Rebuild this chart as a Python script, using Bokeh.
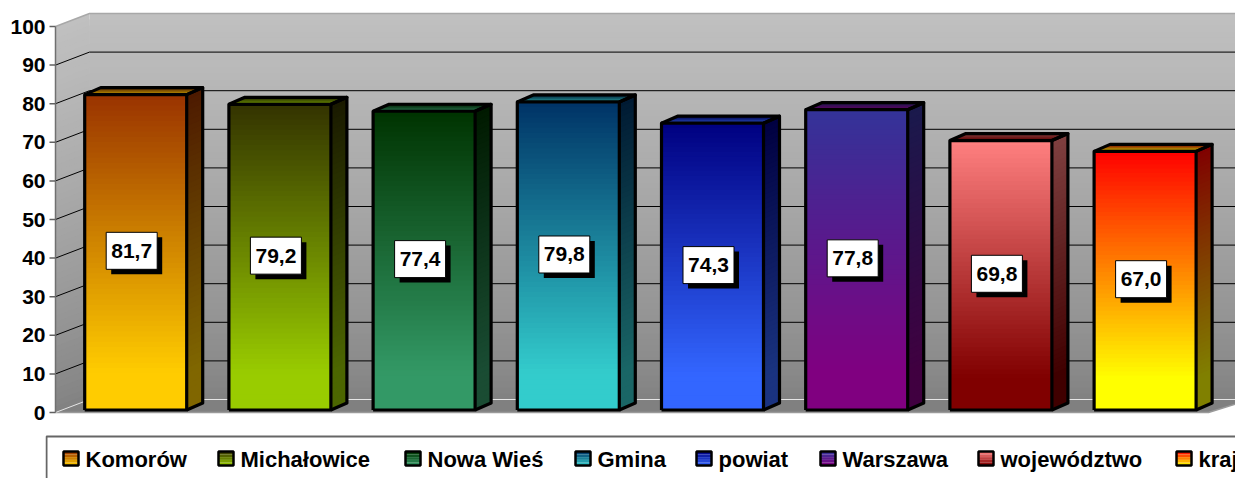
from bokeh.plotting import figure
from bokeh.models import Range1d, FixedTicker, BoxAnnotation
from bokeh.core.properties import value
from bokeh.embed import file_html
from bokeh.resources import INLINE

# ---------- data ----------
categories = ["Komorów", "Michałowice", "Nowa Wieś", "Gmina", "powiat", "Warszawa", "województwo", "kraj"]
values = [81.7, 79.2, 77.4, 79.8, 74.3, 77.8, 69.8, 67.0]
value_labels = ["81,7", "79,2", "77,4", "79,8", "74,3", "77,8", "69,8", "67,0"]
top_colors = ["#993300", "#333300", "#003300", "#003366", "#000080", "#333399", "#FF8080", "#FF0000"]
bottom_colors = ["#FFCC00", "#99CC00", "#339966", "#33CCCC", "#3366FF", "#800080", "#800000", "#FFFF00"]
y_ticks = [0, 10, 20, 30, 40, 50, 60, 70, 80, 90, 100]
legend_swatch_px = [63, 218, 405, 575, 696, 820, 978, 1176]

# ---------- layout (page pixels) ----------
W, H = 1235, 478
FRAME_L = 45          # plot frame starts at the legend box's left edge
AXIS_X = 55           # front plane of the 3D chart
PX_X = 144.2          # pixels per category
PX_Y = 3.86           # pixels per value unit
Y0_PAGE = 412         # value 0 on the front plane
C0_PAGE = 135.2       # centre of first bar
WALL_DX, WALL_DY = 34, 13
BAR_DX, BAR_DY = 16, 7
BAR_W = 102
BAR_LIFT = 2.5        # bars stand slightly behind the front floor edge


def X(px):
    return (px - C0_PAGE) / PX_X


def Y(py):
    return (Y0_PAGE - py) / PX_Y


def hex2rgb(h):
    return tuple(int(h[i:i + 2], 16) for i in (1, 3, 5))


def mix(c1, c2, t, k=1.0):
    a, b = hex2rgb(c1), hex2rgb(c2)
    return "#%02x%02x%02x" % tuple(int(round((a[i] + (b[i] - a[i]) * t) * k)) for i in range(3))


p = figure(width=W, height=H, output_backend="svg", toolbar_location=None,
           x_range=Range1d(X(FRAME_L), X(W)), y_range=Range1d(Y(H), Y(0)),
           x_axis_location=None, min_border_left=FRAME_L, min_border_right=0,
           min_border_top=0, min_border_bottom=0)
p.outline_line_color = None
p.xgrid.visible = False
p.ygrid.visible = False
p.background_fill_color = "white"

ax = p.yaxis[0]
ax.bounds = (0, 100)
ax.ticker = FixedTicker(ticks=y_ticks)
ax.axis_line_color = None
ax.major_tick_line_color = None
ax.major_tick_in = 0
ax.major_tick_out = 0
ax.minor_tick_line_color = None
ax.major_label_standoff = 0
ax.major_label_text_font = "Liberation Sans"
ax.major_label_text_font_style = "bold"
ax.major_label_text_font_size = "21px"
ax.major_label_text_color = "#000000"

# ---------- walls (painted top band first, each band reaching down to the floor) ----------
wall_dy = WALL_DY / PX_Y
x_left, x_back, x_right = X(AXIS_X), X(AXIS_X + WALL_DX), X(1290)
N = 64
for i in range(N - 1, -1, -1):
    v1 = 100 * (i + 1) / N
    c = mix("#808080", "#C0C0C0", ((i + 0.5) / N) ** 0.75)
    p.quad(left=x_back, right=x_right, bottom=wall_dy, top=v1 + wall_dy, fill_color=c, line_color=None)
    p.patch([x_left, x_back, x_back, x_left], [0, wall_dy, v1 + wall_dy, v1], fill_color=c, line_color=None)
# floor
p.patch([x_left, x_back, X(1250), X(1208)], [0, wall_dy, wall_dy, 0], fill_color="#808080", line_color=None)
p.line([x_left, X(1208), X(1250)], [0, 0, wall_dy], line_color="#9a9a9a", line_width=1.5)
# grid lines
for t in y_ticks:
    col = "#000000" if 0 < t < 100 else ("#e6e6e6" if t == 0 else "#a8a8a8")
    lw = 1 if t < 100 else 1.5
    p.line([x_left, x_back, x_right], [t, t + wall_dy, t + wall_dy], line_color=col, line_width=lw)
# axis line and outward ticks on the front plane
p.line([x_left, x_left], [y_ticks[0], y_ticks[-1]], line_color="#707070", line_width=1.5)
p.segment(x0=[X(AXIS_X - 6)] * len(y_ticks), x1=[x_left] * len(y_ticks), y0=y_ticks, y1=y_ticks,
          line_color="#606060", line_width=1.5)

# ---------- bars ----------
bar_dx = BAR_DX / PX_X
bar_dy = BAR_DY / PX_Y
half = BAR_W / 2 / PX_X
lift = BAR_LIFT / PX_Y
S = 60
for i, v in enumerate(values):
    tc, bc = top_colors[i], bottom_colors[i]
    xl, xr = i - half, i + half
    # side and front gradients: top slice first, every slice down to the base
    for s in range(S - 1, -1, -1):
        b = v * (s + 1) / S + lift
        t = max(0.0, ((s + 0.5) / S - 0.12) / 0.88)
        p.patch([xr, xr + bar_dx, xr + bar_dx, xr], [lift, lift + bar_dy, b + bar_dy, b],
                fill_color=mix(bc, tc, t, 0.5), line_color=None)
        p.quad(left=xl, right=xr, bottom=lift, top=b, fill_color=mix(bc, tc, t), line_color=None)
    # top gradient, back to front
    top = v + lift
    T = 8
    for s in range(T - 1, -1, -1):
        b = (s + 1) / T
        c = mix(mix(bc, bc, 0, 0.78), mix(tc, tc, 0, 0.5), (s + 0.5) / T)
        p.patch([xl, xr, xr + b * bar_dx, xl + b * bar_dx],
                [top, top, top + b * bar_dy, top + b * bar_dy],
                fill_color=c, line_color=None)
    # outlines
    p.multi_line(
        [[xl, xr, xr, xl, xl],
         [xl, xl + bar_dx, xr + bar_dx, xr],
         [xr, xr + bar_dx, xr + bar_dx, xr]],
        [[lift, lift, top, top, lift],
         [top, top + bar_dy, top + bar_dy, top],
         [lift, lift + bar_dy, top + bar_dy, top]],
        line_color="#000000", line_width=3.2, line_join="round")

# ---------- value labels ----------
box_w, box_h = 51 / PX_X, 37 / PX_Y
shadow_x, shadow_y = 5 / PX_X, 5 / PX_Y
for i, v in enumerate(values):
    cx = i - 4 / PX_X
    cy = v / 2 + lift + 1.5 / PX_Y
    p.quad(left=cx - box_w / 2 + shadow_x, right=cx + box_w / 2 + shadow_x,
           bottom=cy - box_h / 2 - shadow_y, top=cy + box_h / 2 - shadow_y,
           fill_color="#000000", line_color=None)
    p.quad(left=cx - box_w / 2, right=cx + box_w / 2, bottom=cy - box_h / 2, top=cy + box_h / 2,
           fill_color="#ffffff", line_color="#000000", line_width=1)
    p.text(x=[cx], y=[cy], text=[value_labels[i]], text_align="center", text_baseline="middle",
           text_font=value("Liberation Sans"), text_font_style="bold", text_font_size="21px",
           text_color="#000000")

# ---------- legend ----------
p.add_layout(BoxAnnotation(left=X(46), right=X(1300), top=Y(436), bottom=Y(520),
                           fill_color="white", fill_alpha=1, line_color="#666666", line_alpha=1, line_width=2))
for i, name in enumerate(categories):
    sx = legend_swatch_px[i]
    L = 5
    for s in range(L):
        p.quad(left=X(sx), right=X(sx + 15), top=Y(451 + 14 * s / L), bottom=Y(451 + 14 * (s + 1) / L),
               fill_color=mix(top_colors[i], bottom_colors[i], (s + 0.5) / L),
               line_color=None, level="overlay")
    p.quad(left=X(sx), right=X(sx + 15), top=Y(451), bottom=Y(465), fill_color=None,
           line_color="#000000", line_width=2.5, level="overlay")
    p.text(x=[X(sx + 22)], y=[Y(459)], text=[name], text_align="left", text_baseline="middle",
           text_font=value("Liberation Sans"), text_font_style="bold", text_font_size="22px",
           text_color="#000000", level="overlay")

open("out.html", "w").write(file_html(p, INLINE))
